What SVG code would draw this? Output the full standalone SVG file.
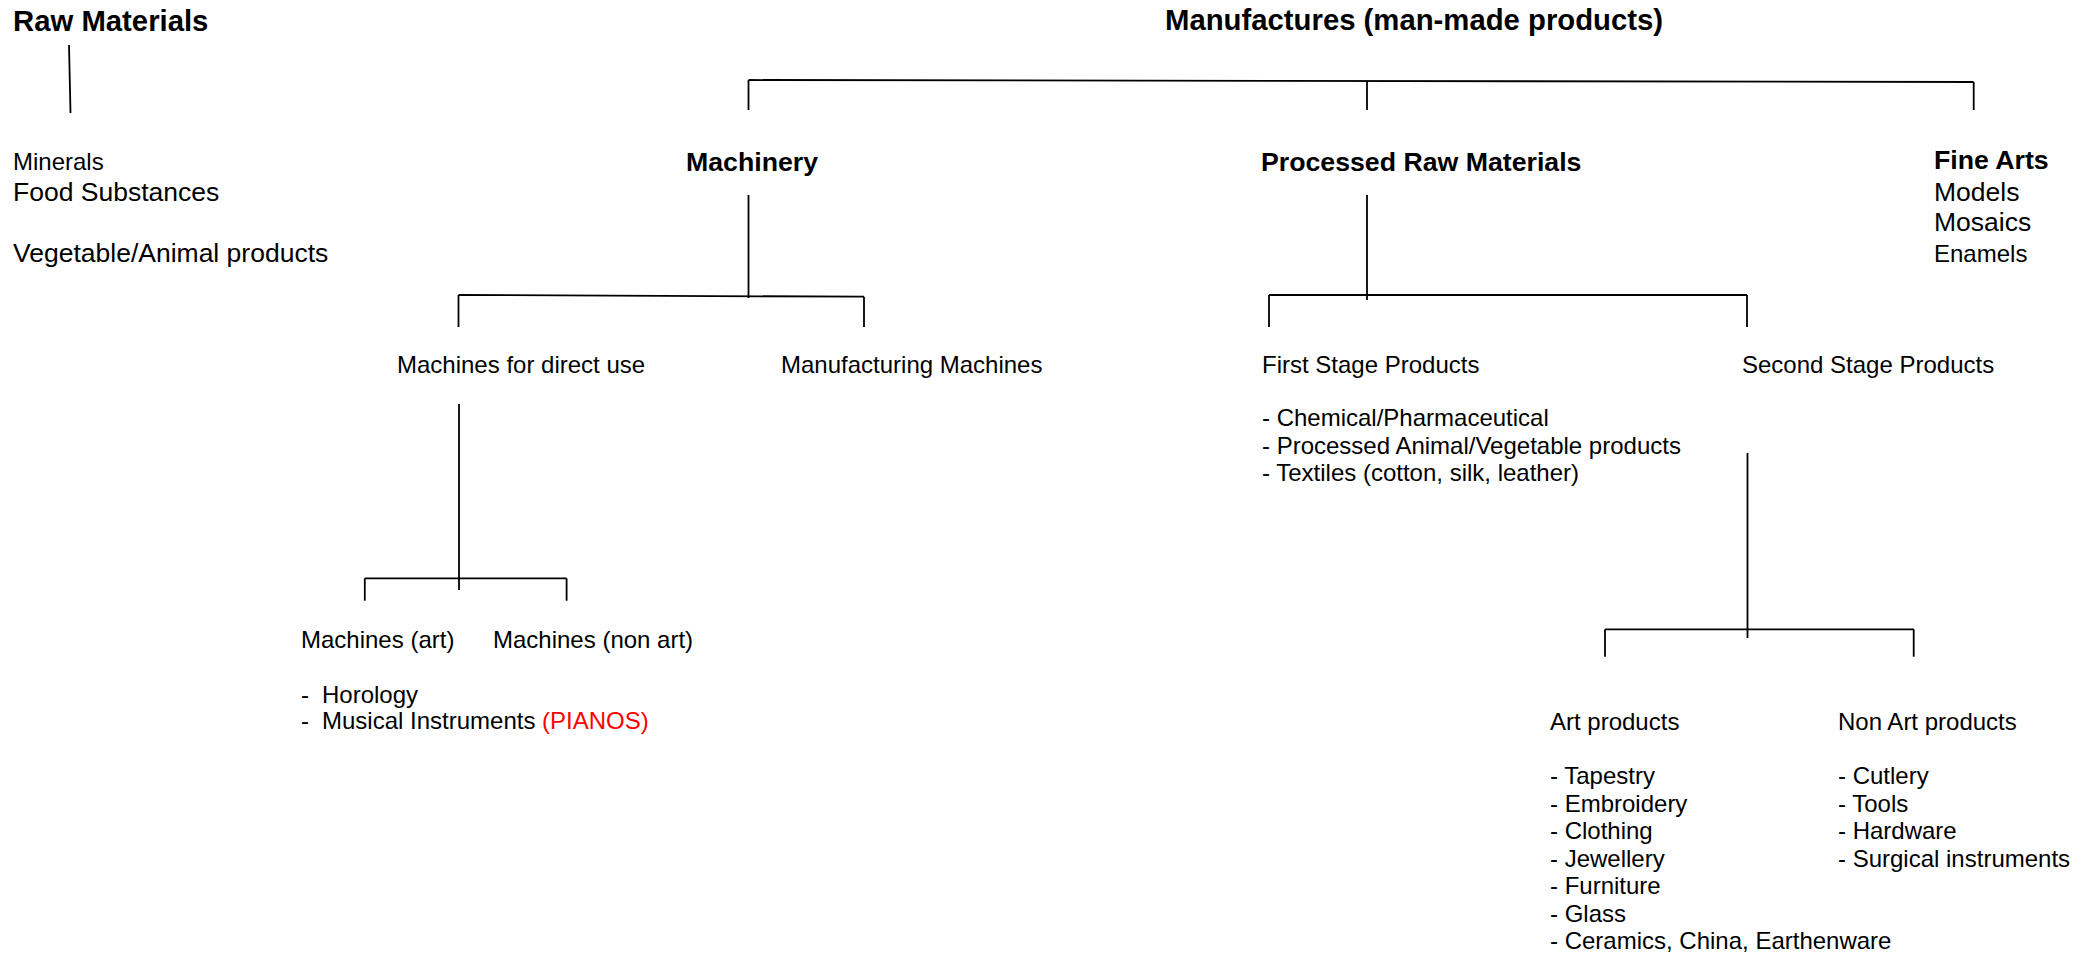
<svg xmlns="http://www.w3.org/2000/svg" width="2096" height="957" viewBox="0 0 2096 957">
<style>
text { font-family: "Liberation Sans", Arial, sans-serif; fill: #000; }
.h1 { font-size: 29.3px; font-weight: bold; }
.h2 { font-size: 26.7px; font-weight: bold; }
.l { font-size: 26.5px; }
.m { font-size: 24px; }
.red { fill: #ff0000; }
.c line { stroke: #000; stroke-width: 1.8; fill: none; }
</style>
<rect width="2096" height="957" fill="#fff"/>
<g id="connectors" class="c">
  <line x1="69" y1="45" x2="70.5" y2="113"/>
  <line x1="748.5" y1="80" x2="1973.7" y2="82"/>
  <line x1="748.5" y1="80" x2="748.5" y2="110"/>
  <line x1="1367" y1="81" x2="1367" y2="110"/>
  <line x1="1973.7" y1="82" x2="1973.7" y2="110"/>
  <line x1="748.5" y1="195" x2="748.5" y2="298"/>
  <line x1="458.5" y1="295" x2="864" y2="296.7"/>
  <line x1="458.5" y1="295" x2="458.5" y2="327"/>
  <line x1="864" y1="296.7" x2="864" y2="327"/>
  <line x1="1367" y1="195" x2="1367" y2="300"/>
  <line x1="1269" y1="295" x2="1747" y2="295"/>
  <line x1="1269" y1="295" x2="1269" y2="327"/>
  <line x1="1747" y1="295" x2="1747" y2="327"/>
  <line x1="459" y1="404" x2="459" y2="590"/>
  <line x1="364.8" y1="578.3" x2="566.6" y2="578.3"/>
  <line x1="364.8" y1="578.3" x2="364.8" y2="600.7"/>
  <line x1="566.6" y1="578.3" x2="566.6" y2="600.7"/>
  <line x1="1747.5" y1="453" x2="1747.5" y2="638"/>
  <line x1="1605" y1="629.3" x2="1913.7" y2="629.3"/>
  <line x1="1605" y1="629.3" x2="1605" y2="656.7"/>
  <line x1="1913.7" y1="629.3" x2="1913.7" y2="656.7"/>
</g>
<g id="raw-materials">
  <text class="h1" x="13" y="31">Raw Materials</text>
  <text class="m" x="13" y="170">Minerals</text>
  <text class="l" x="13" y="201">Food Substances</text>
  <text class="l" x="13" y="262">Vegetable/Animal products</text>
</g>
<g id="manufactures">
  <text class="h1" x="1165" y="30">Manufactures (man-made products)</text>
</g>
<g id="machinery">
  <text class="h2" x="686" y="171">Machinery</text>
</g>
<g id="processed-raw-materials">
  <text class="h2" x="1261" y="171">Processed Raw Materials</text>
</g>
<g id="fine-arts">
  <text class="h2" x="1934" y="169">Fine Arts</text>
  <text class="l" x="1934" y="201">Models</text>
  <text class="l" x="1934" y="231">Mosaics</text>
  <text class="m" x="1934" y="262">Enamels</text>
</g>
<g id="machines-direct-use">
  <text class="m" x="397" y="372.5">Machines for direct use</text>
</g>
<g id="manufacturing-machines">
  <text class="m" x="781" y="372.5">Manufacturing Machines</text>
</g>
<g id="first-stage">
  <text class="m" x="1262" y="372.5">First Stage Products</text>
  <text class="m" x="1262" y="426">- Chemical/Pharmaceutical</text>
  <text class="m" x="1262" y="453.5">- Processed Animal/Vegetable products</text>
  <text class="m" x="1262" y="481">- Textiles (cotton, silk, leather)</text>
</g>
<g id="second-stage">
  <text class="m" x="1742" y="372.5">Second Stage Products</text>
</g>
<g id="machines-art">
  <text class="m" x="301" y="647.5">Machines (art)</text>
  <text class="m" x="301" y="702.5">-</text>
  <text class="m" x="322" y="702.5">Horology</text>
  <text class="m" x="301" y="729">-</text>
  <text class="m" x="322" y="729">Musical Instruments <tspan class="red">(PIANOS)</tspan></text>
</g>
<g id="machines-non-art">
  <text class="m" x="493" y="647.5">Machines (non art)</text>
</g>
<g id="art-products">
  <text class="m" x="1550" y="730">Art products</text>
  <text class="m" x="1550" y="784">- Tapestry</text>
  <text class="m" x="1550" y="811.5">- Embroidery</text>
  <text class="m" x="1550" y="839">- Clothing</text>
  <text class="m" x="1550" y="866.5">- Jewellery</text>
  <text class="m" x="1550" y="894">- Furniture</text>
  <text class="m" x="1550" y="921.5">- Glass</text>
  <text class="m" x="1550" y="949">- Ceramics, China, Earthenware</text>
</g>
<g id="non-art-products">
  <text class="m" x="1838" y="730">Non Art products</text>
  <text class="m" x="1838" y="784">- Cutlery</text>
  <text class="m" x="1838" y="811.5">- Tools</text>
  <text class="m" x="1838" y="839">- Hardware</text>
  <text class="m" x="1838" y="866.5">- Surgical instruments</text>
</g>
</svg>
